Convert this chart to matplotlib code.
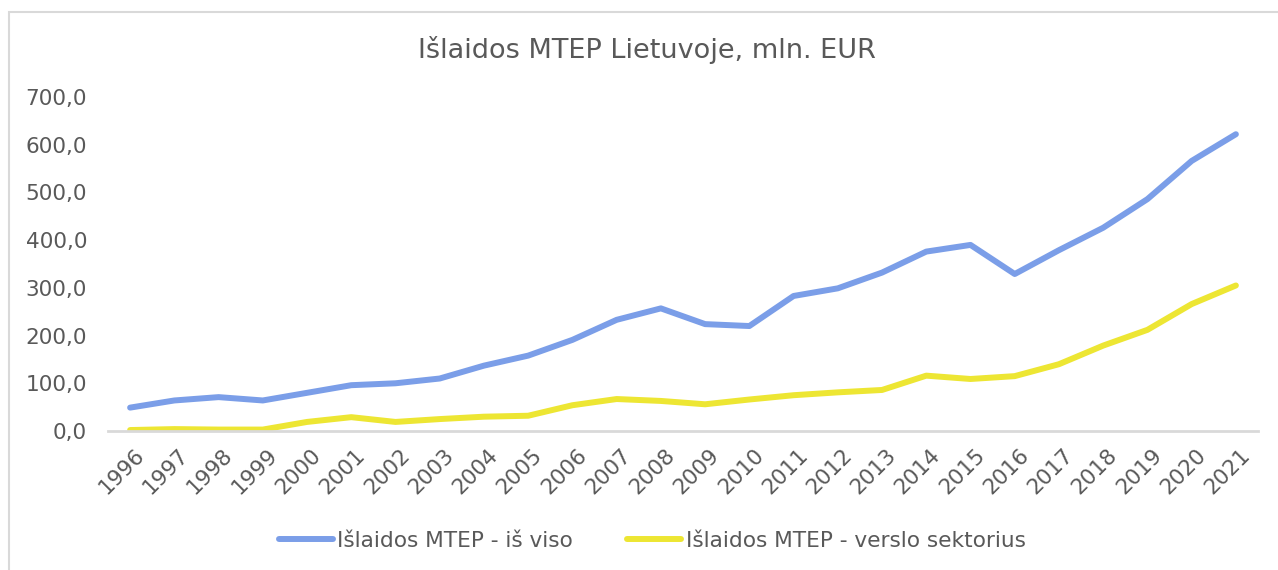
import matplotlib
matplotlib.use("Agg")
import matplotlib.pyplot as plt
from matplotlib.patches import Rectangle
from matplotlib.transforms import ScaledTranslation

years = [str(y) for y in range(1996, 2022)]
total = [49, 64, 71, 64, 80, 96, 100, 110, 137, 158, 191, 233, 257, 224, 220,
         283, 299, 332, 376, 390, 329, 379, 426, 486, 566, 622]
business = [2, 4, 3, 3, 19, 29, 19, 25, 30, 32, 54, 67, 63, 56, 66,
            75, 81, 86, 116, 109, 115, 140, 179, 212, 266, 305]
yticks = [0, 100, 200, 300, 400, 500, 600, 700]

title = "Išlaidos MTEP Lietuvoje, mln. EUR"
label_total = "Išlaidos MTEP - iš viso"
label_business = "Išlaidos MTEP - verslo sektorius"

W, H = 1278, 570
fig = plt.figure(figsize=(W / 100, H / 100), dpi=100)
fig.patch.set_facecolor("white")
plt.rcParams["font.family"] = ["DejaVu Sans"]
gray = "#595959"
fs = 15.6

# outer chart frame
fig.patches.append(Rectangle((8.5 / W, -0.1), 1.2, (1 - 12.5 / H) + 0.1,
                             transform=fig.transFigure, fill=False,
                             ec="#D9D9D9", lw=1.5))

ax = fig.add_axes([108 / W, 1 - 431 / H, (1258 - 108) / W, (431 - 97) / H])
x = list(range(len(years)))
ax.plot(x, total, color="#7B9EE8", lw=4.3, solid_capstyle="round",
        solid_joinstyle="round", label=label_total)
ax.plot(x, business, color="#EDE633", lw=4.3, solid_capstyle="round",
        solid_joinstyle="round", label=label_business)

ax.set_xlim(-0.5, len(years) - 0.5)
ax.set_ylim(0, 700)
ax.set_yticks(yticks)
ax.set_yticklabels([f"{v:.1f}".replace(".", ",") for v in yticks],
                   fontsize=fs, color=gray)
ax.set_xticks(x)
ax.set_xticklabels(years, rotation=45, ha="right", rotation_mode="anchor",
                   fontsize=fs, color=gray)
ax.tick_params(axis="both", length=0)
ax.tick_params(axis="y", pad=15)
ax.tick_params(axis="x", pad=10)
offset = ScaledTranslation(4 / 100, 0, fig.dpi_scale_trans)
for lbl in ax.get_xticklabels():
    lbl.set_transform(lbl.get_transform() + offset)
for s in ["top", "right", "left"]:
    ax.spines[s].set_visible(False)
ax.spines["bottom"].set_color("#D9D9D9")
ax.spines["bottom"].set_linewidth(2)

fig.text(647 / W, 1 - 50 / H, title, ha="center", va="center",
         fontsize=19.5, color=gray)

fig.legend(loc="center", bbox_to_anchor=(652 / W, 1 - 541 / H), ncol=2,
           frameon=False, fontsize=fs, labelcolor=gray, handlelength=2.5,
           handletextpad=0.2, columnspacing=2.5)

fig.savefig("out.png", dpi=100, facecolor="white")
